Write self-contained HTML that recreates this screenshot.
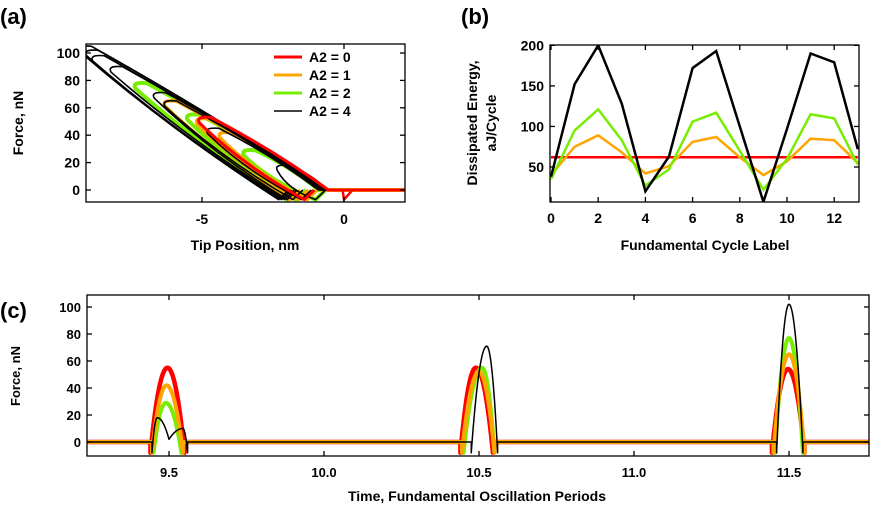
<!DOCTYPE html>
<html><head><meta charset="utf-8"><style>
html,body{margin:0;padding:0;background:#fff;}
svg{display:block;font-family:"Liberation Sans",Arial,sans-serif;font-weight:bold;}
</style></head><body>
<svg id="fig" width="871" height="509" viewBox="0 0 871 509" xmlns="http://www.w3.org/2000/svg">
<defs>
<clipPath id="clipA"><rect x="86" y="44" width="319" height="158"/></clipPath>
<clipPath id="clipB"><rect x="550" y="45" width="309" height="157"/></clipPath>
<clipPath id="clipC"><rect x="87" y="295" width="782" height="161"/></clipPath>
</defs>
<text x="0" y="24" font-size="22">(a)</text>
<text x="461" y="24" font-size="22">(b)</text>
<text x="0" y="318" font-size="22">(c)</text>
<g id="gA"></g>
<g id="gB"></g>
<g id="gC"></g>
</svg>
<script>
// ---- Panel (b) data ----
const cycleLabels = [0,1,2,3,4,5,6,7,8,9,10,11,12,13];
const energyA2_0 = [62,62,62,62,62,62,62,62,62,62,62,62,62,62];
const energyA2_1 = [40,75,89,68,42,51,81,87,62,40,57,85,83,55];
const energyA2_2 = [35,95,121,83,27,47,106,117,70,22,60,115,110,53];
const energyA2_4 = [38,152,200,128,20,63,172,193,100,7,97,190,179,72];
const bYTicks = [50,100,150,200];
const bXTicks = [0,2,4,6,8,10,12];
// ---- Panel (a) data: loops [peakForce, contactX, releaseX] ----
const loopsA2_0 = [[53,-0.55,-1.4]];
const loopsA2_1 = [[42,-0.7,-1.3],[52,-0.7,-1.6],[65,-0.8,-1.9]];
const loopsA2_2 = [[29,-0.9,-1.0],[55,-0.8,-1.7],[78,-0.8,-2.0]];
const loopsA2_4 = [[18,-0.6,-1.0],[45,-0.9,-1.5],[65,-0.8,-1.8],[71,-0.7,-2.0],[90,-0.7,-2.1],[98,-0.7,-2.2],[102,-0.6,-2.3],[105,-0.6,-2.3]];
const aYTicks = [0,20,40,60,80,100];
const aXTicks = [-5,0];
// ---- Panel (c) data: humps [t0,f0,tPeak,fPeak,t1,f1] ----
const pulsesA2_0 = [[9.44,-8,9.495,55,9.55,-8],[10.44,-8,10.49,55,10.545,-8],[11.445,-8,11.497,54,11.55,-8]];
const pulsesA2_1 = [[9.445,-8,9.492,42,9.545,-8],[10.445,-8,10.5,52,10.55,-8],[11.45,-8,11.5,65,11.55,-8]];
const pulsesA2_2 = [[9.45,-8,9.49,29,9.54,-8],[10.45,-8,10.51,55,10.55,-8],[11.455,-8,11.5,77,11.545,-8]];
const pulsesA2_4 = [[9.445,-8,9.462,18,9.5,2],[9.5,2,9.545,10,9.56,-8],[10.475,-8,10.525,71,10.56,-8],[11.46,-8,11.5,102,11.545,-8]];
const cYTicks = [0,20,40,60,80,100];
const cXTicks = [9.5,10.0,10.5,11.0,11.5];

const NS='http://www.w3.org/2000/svg';
function mk(parent,tag,attrs){const e=document.createElementNS(NS,tag);for(const k in attrs)e.setAttribute(k,attrs[k]);parent.appendChild(e);return e;}
function txt(parent,x,y,s,size,anchor,rot){const t=mk(parent,'text',{x:x,y:y,'font-size':size,'text-anchor':anchor||'middle'});if(rot)t.setAttribute('transform','rotate(-90 '+x+' '+y+')');t.textContent=s;return t;}

// ===== Panel A =====
const gA=document.getElementById('gA');
const xa=x=>344+x*28.4, ya=f=>190-f*1.37;
function loopPath(l){const [fp,xc,xr]=l;const xp=xc-fp/12.5;
 const ux=(xc+xp)/2+0.25, uy=fp/2+2;          // upper bow
 const lx=(xp-0.25+xr)/2-0.35, ly=(fp-4-7)/2-3; // lower bow
 return 'M'+xa(2.2)+','+ya(0)+' L'+xa(xc)+','+ya(0)+' Q'+xa(ux)+','+ya(uy)+' '+xa(xp+0.1)+','+ya(fp)+' Q'+xa(xp-0.45)+','+ya(fp+1)+' '+xa(xp-0.3)+','+ya(fp-4)+' Q'+xa(lx)+','+ya(ly)+' '+xa(xr)+','+ya(-7)+' L'+xa(xr+0.35)+','+ya(0);}
const aCols=[['#ff0000',loopsA2_0,3,'a2-0'],['#ffa500',loopsA2_1,3.5,'a2-1'],['#77ee00',loopsA2_2,4,'a2-2'],['#000000',loopsA2_4,1.6,'a2-4']];
const clA=mk(gA,'g',{'clip-path':'url(#clipA)'});
[aCols[2],aCols[1],aCols[3],aCols[0]].forEach(c=>{
 c[1].forEach(l=>{const p=mk(clA,'path',{d:loopPath(l),fill:'none',stroke:c[0],'stroke-width':c[2],'stroke-linejoin':'round'});
 
 });
});
const redDip=mk(clA,'path',{d:'M'+xa(-0.6)+','+ya(0)+' L'+xa(-0.05)+','+ya(0)+' L'+xa(0)+','+ya(-7)+' L'+xa(0.3)+','+ya(0),fill:'none',stroke:'#ff0000','stroke-width':2.5});


mk(gA,'rect',{x:86,y:44,width:319,height:158,fill:'none',stroke:'#000','stroke-width':1.3});
aYTicks.forEach(v=>{mk(gA,'line',{x1:86,y1:ya(v),x2:91,y2:ya(v),stroke:'#000','stroke-width':1.3});mk(gA,'line',{x1:400,y1:ya(v),x2:405,y2:ya(v),stroke:'#000','stroke-width':1.3});
 const t=txt(gA,80,ya(v)+5,String(v),14,'end');});
aXTicks.forEach(v=>{mk(gA,'line',{x1:xa(v),y1:202,x2:xa(v),y2:197,stroke:'#000','stroke-width':1.3});mk(gA,'line',{x1:xa(v),y1:44,x2:xa(v),y2:49,stroke:'#000','stroke-width':1.3});
 const t=txt(gA,xa(v),224,String(v),14);});
const aT1=txt(gA,23,123,'Force, nN',14,'middle',true);
const aT2=txt(gA,245,250,'Tip Position, nm',14);
const leg=mk(gA,'g',{});
const legItems=[['A2 = 0','#ff0000',3],['A2 = 1','#ffa500',3],['A2 = 2','#77ee00',3],['A2 = 4','#000',1.5]];
legItems.forEach((it,i)=>{const y=57+i*18;const g=mk(leg,'g',{});
 mk(g,'line',{x1:274,y1:y,x2:302,y2:y,stroke:it[1],'stroke-width':it[2]});txt(g,309,y+5,it[0],14,'start');});

// ===== Panel B =====
const gB=document.getElementById('gB');
const xb=i=>551+i*23.6, yb=v=>167-(v-50)*0.811;
const clB=mk(gB,'g',{'clip-path':'url(#clipB)'});
[[energyA2_0,'#ff0000','a2-0'],[energyA2_1,'#ffa500','a2-1'],[energyA2_2,'#77ee00','a2-2'],[energyA2_4,'#000','a2-4']].forEach(s=>{
 const pts=cycleLabels.map((c,i)=>xb(c)+','+yb(s[0][i])).join(' ');
 const p=mk(clB,'polyline',{points:pts,fill:'none',stroke:s[1],'stroke-width':2.5,'stroke-linejoin':'miter'});
 
 });
mk(gB,'rect',{x:550,y:45,width:309,height:157,fill:'none',stroke:'#000','stroke-width':1.3});
bYTicks.forEach(v=>{mk(gB,'line',{x1:550,y1:yb(v),x2:555,y2:yb(v),stroke:'#000','stroke-width':1.3});mk(gB,'line',{x1:854,y1:yb(v),x2:859,y2:yb(v),stroke:'#000','stroke-width':1.3});
 const t=txt(gB,544,yb(v)+5,String(v),14,'end');});
bXTicks.forEach(v=>{mk(gB,'line',{x1:xb(v),y1:202,x2:xb(v),y2:197,stroke:'#000','stroke-width':1.3});mk(gB,'line',{x1:xb(v),y1:45,x2:xb(v),y2:50,stroke:'#000','stroke-width':1.3});
 const t=txt(gB,xb(v),223,String(v),14);});
const bT1=txt(gB,477,123,'Dissipated Energy,',14,'middle',true);
const bT1b=txt(gB,496,123,'aJ/Cycle',14,'middle',true);
const bT2=txt(gB,705,250,'Fundamental Cycle Label',14);

// ===== Panel C =====
const gC=document.getElementById('gC');
const xc=t=>169+(t-9.5)*310, yc=f=>442-f*1.35;
const clC=mk(gC,'g',{'clip-path':'url(#clipC)'});
function humpPts(h){const [t0,f0,tp,fp,t1,f1]=h;const out=[];const N=24;
 for(let k=0;k<=N;k++){const t=t0+(tp-t0)*k/N;const u=(t-tp)/(t0-tp);out.push([t,fp-(fp-f0)*u*u]);}
 for(let k=1;k<=N;k++){const t=tp+(t1-tp)*k/N;const u=(t-tp)/(t1-tp);out.push([t,fp-(fp-f1)*u*u]);}
 return out;}
function seriesPath(humps){let d='M'+xc(9.2)+','+yc(0);
 humps.forEach(h=>{const first=humpPts(h);if(h[1]===-8)d+=' L'+xc(h[0])+','+yc(0);
 first.forEach(p=>{d+=' L'+xc(p[0])+','+yc(p[1]);});if(h[5]===-8)d+=' L'+xc(h[4])+','+yc(0);});
 d+=' L'+xc(11.8)+','+yc(0);return d;}
[[pulsesA2_0,'#ff0000',4.5,'a2-0'],[pulsesA2_2,'#77ee00',4,'a2-2'],[pulsesA2_1,'#ffa500',4,'a2-1'],[pulsesA2_4,'#000',1.5,'a2-4']].forEach(s=>{
 const p=mk(clC,'path',{d:seriesPath(s[0]),fill:'none',stroke:s[1],'stroke-width':s[2],'stroke-linejoin':'round'});
 
 });
mk(gC,'rect',{x:87,y:295,width:782,height:161,fill:'none',stroke:'#000','stroke-width':1.3});
cYTicks.forEach(v=>{mk(gC,'line',{x1:87,y1:yc(v),x2:92,y2:yc(v),stroke:'#000','stroke-width':1.3});mk(gC,'line',{x1:864,y1:yc(v),x2:869,y2:yc(v),stroke:'#000','stroke-width':1.3});
 const t=txt(gC,81,yc(v)+5,String(v),13,'end');});
cXTicks.forEach(v=>{mk(gC,'line',{x1:xc(v),y1:456,x2:xc(v),y2:451,stroke:'#000','stroke-width':1.3});mk(gC,'line',{x1:xc(v),y1:295,x2:xc(v),y2:300,stroke:'#000','stroke-width':1.3});
 const t=txt(gC,xc(v),477,v.toFixed(1),13);});
const cT1=txt(gC,20,376,'Force, nN',13,'middle',true);
const cT2=txt(gC,477,501,'Time, Fundamental Oscillation Periods',14);
</script>
</body></html>
